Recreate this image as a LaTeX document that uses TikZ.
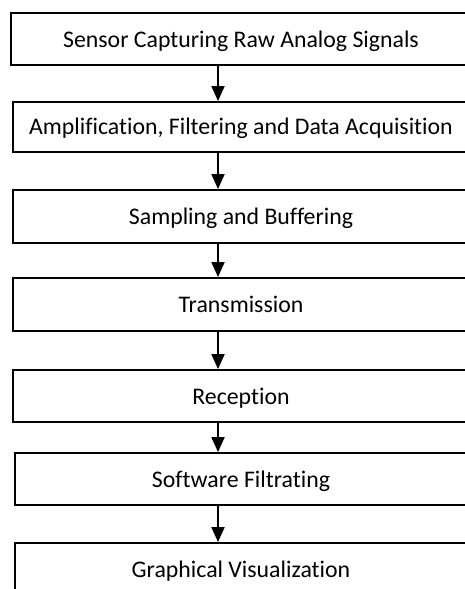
\documentclass[tikz,border=0pt]{standalone}
\usepackage{fontspec}
\setmainfont{Carlito}[Ligatures={NoCommon,NoContextual,NoRequired}]
\usetikzlibrary{arrows.meta}

\begin{document}
\begin{tikzpicture}[x=1pt,y=1pt,
    stepbox/.style={draw=black, line width=1.8pt, fill=white, inner sep=0pt,
      font=\fontsize{23.8}{28}\selectfont, anchor=center},
    tall/.style={minimum height=53pt, text height=35pt, text depth=18pt},
    mid/.style={minimum height=52pt, text height=34.5pt, text depth=17.5pt},
    low/.style={minimum height=50pt, text height=33pt, text depth=17pt},
    flow/.style={line width=1.8pt, -{Triangle[length=15pt,width=13pt]}}]
  % page frame (the boxes run past the right and bottom edges)
  \useasboundingbox (0,0) rectangle (465,589);
  \clip (0,0) rectangle (465,589);

  % process steps, centred at x = 241 (y measured from the bottom)
  \node[stepbox, mid, minimum width=460pt] (b1) at (241,550) {Sensor Capturing Raw Analog Signals};
  \node[stepbox, low, minimum width=456pt] (b2) at (241,462) {Amplification, Filtering and Data Acquisition};
  \node[stepbox, tall, minimum width=456pt] (b3) at (241,372.5) {Sampling and Buffering};
  \node[stepbox, tall, minimum width=456pt] (b4) at (241,284.5) {Transmission};
  \node[stepbox, mid, minimum width=456pt] (b5) at (241,193) {Reception};
  \node[stepbox, mid, minimum width=452pt] (b6) at (241,110) {Software Filtrating};
  \node[stepbox, mid, minimum width=452pt] (b7) at (241,20) {Graphical Visualization};

  % vertical line carrying the connectors
  \coordinate (ax) at (218,0);

  \draw[flow] (b1.south -| ax) -- (b2.north -| ax);
  \draw[flow] (b2.south -| ax) -- (b3.north -| ax);
  \draw[flow] (b3.south -| ax) -- (b4.north -| ax);
  \draw[flow] (b4.south -| ax) -- (b5.north -| ax);
  \draw[flow] (b5.south -| ax) -- (b6.north -| ax);
  \draw[flow] (b6.south -| ax) -- (b7.north -| ax);
\end{tikzpicture}
\end{document}
